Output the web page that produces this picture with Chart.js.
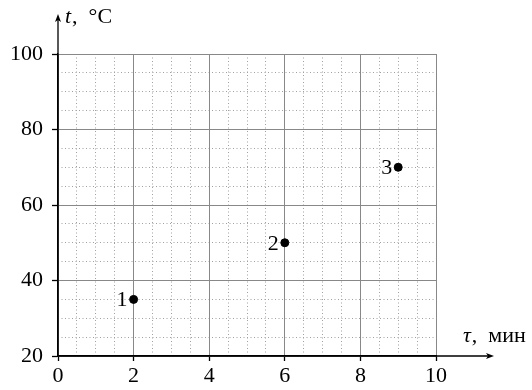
<!DOCTYPE html>
<html>
<head>
<meta charset="utf-8">
<script src="https://cdn.jsdelivr.net/npm/chart.js@4/dist/chart.umd.min.js"></script>
<style>
  html, body { margin: 0; padding: 0; background: #fff; }
  #wrap { width: 532px; height: 390px; }
</style>
</head>
<body>
<div id="wrap"><canvas id="grafico"></canvas></div>
<script>
// datos del gráfico
let tiempos = [2, 6, 9];          // τ, мин
let temperaturas = [35, 50, 70];  // t, °C
let etiquetas = ["1", "2", "3"];
let ejeX = [0, 2, 4, 6, 8, 10];
let ejeY = [20, 40, 60, 80, 100];

const fuente = "'Liberation Serif', 'DejaVu Serif', serif";

// flechas de los ejes, textos de ejes y números de los puntos
const extras = {
    id: "extras",
    afterDraw(chart) {
        const ctx = chart.ctx;
        const x = chart.scales.x, y = chart.scales.y;
        const x0 = x.getPixelForValue(0), y0 = y.getPixelForValue(20);
        const yTop = 14, xEnd = 494;
        ctx.save();
        ctx.strokeStyle = "#000";
        ctx.fillStyle = "#000";
        ctx.lineWidth = 1.3;
        ctx.beginPath();
        ctx.moveTo(x0, y0);
        ctx.lineTo(x0, yTop + 4);
        ctx.moveTo(x0, y0);
        ctx.lineTo(xEnd - 4, y0);
        ctx.stroke();
        // puntas
        ctx.beginPath();
        ctx.moveTo(x0, yTop);
        ctx.lineTo(x0 - 3, yTop + 8);
        ctx.lineTo(x0, yTop + 6);
        ctx.lineTo(x0 + 3, yTop + 8);
        ctx.closePath();
        ctx.fill();
        ctx.beginPath();
        ctx.moveTo(xEnd, y0);
        ctx.lineTo(xEnd - 8, y0 - 3);
        ctx.lineTo(xEnd - 6, y0);
        ctx.lineTo(xEnd - 8, y0 + 3);
        ctx.closePath();
        ctx.fill();

        // títulos de ejes
        ctx.textBaseline = "alphabetic";
        ctx.textAlign = "left";
        ctx.font = "italic 22px " + fuente;
        ctx.fillText("t", 65, 23);
        let w = ctx.measureText("t").width;
        ctx.font = "22px " + fuente;
        ctx.fillText(",\u2002°C", 66 + w, 23);

        ctx.font = "italic 22px " + fuente;
        ctx.fillText("τ", 463, 342);
        w = ctx.measureText("τ").width;
        ctx.font = "22px " + fuente;
        ctx.fillText(",\u2002мин", 464 + w, 342);

        // números junto a los puntos
        const meta = chart.getDatasetMeta(0);
        ctx.font = "22px " + fuente;
        ctx.textAlign = "right";
        ctx.textBaseline = "middle";
        meta.data.forEach(function (p, i) {
            ctx.fillText(etiquetas[i], p.x - 6, p.y + 1);
        });
        ctx.restore();
    }
};

let ctx = document.getElementById("grafico").getContext("2d");

let grafico = new Chart(ctx, {
    type: "scatter",
    data: {
        datasets: [{
            data: tiempos.map(function (t, i) { return { x: t, y: temperaturas[i] }; }),
            backgroundColor: "#000",
            borderColor: "#000",
            pointRadius: 4,
            pointHoverRadius: 4
        }]
    },
    options: {
        responsive: true,
        maintainAspectRatio: false,
        animation: false,
        events: [],
        layout: { padding: { top: 54, right: 96, left: 0, bottom: 0 } },
        plugins: { legend: { display: false }, tooltip: { enabled: false } },
        scales: {
            xMenor: {
                type: "linear", position: "bottom", min: 0, max: 10,
                afterFit: function (s) { s.height = 0; },
                ticks: { display: false, stepSize: 0.5 },
                border: { display: false, dash: [1, 2.5] },
                grid: {
                    drawTicks: false, lineWidth: 1,
                    color: function (c) { return c.tick && c.tick.value % 2 === 0 ? "rgba(0,0,0,0)" : "#a0a0a0"; }
                }
            },
            yMenor: {
                type: "linear", position: "left", min: 20, max: 100,
                afterFit: function (s) { s.width = 0; },
                ticks: { display: false, stepSize: 5 },
                border: { display: false, dash: [1, 2.5] },
                grid: {
                    drawTicks: false, lineWidth: 1,
                    color: function (c) { return c.tick && c.tick.value % 20 === 0 ? "rgba(0,0,0,0)" : "#a0a0a0"; }
                }
            },
            x: {
                type: "linear", position: "bottom", min: 0, max: 10,
                afterFit: function (s) { s.height = 34; },
                afterBuildTicks: function (s) { s.ticks = ejeX.map(function (v) { return { value: v }; }); },
                ticks: { color: "#000", font: { family: fuente, size: 22 }, padding: 2, maxRotation: 0 },
                border: { display: true, color: "#000", width: 1.3 },
                grid: { color: "#888", lineWidth: 1, tickColor: "#000", tickLength: 5, tickWidth: 1.3 }
            },
            y: {
                type: "linear", position: "left", min: 20, max: 100,
                afterFit: function (s) { s.width = 58; },
                afterBuildTicks: function (s) { s.ticks = ejeY.map(function (v) { return { value: v }; }); },
                ticks: { color: "#000", font: { family: fuente, size: 22 }, padding: 9 },
                border: { display: true, color: "#000", width: 1.3 },
                grid: { color: "#888", lineWidth: 1, tickColor: "#000", tickLength: 6, tickWidth: 1.3 }
            }
        }
    },
    plugins: [extras]
});
</script>
</body>
</html>
